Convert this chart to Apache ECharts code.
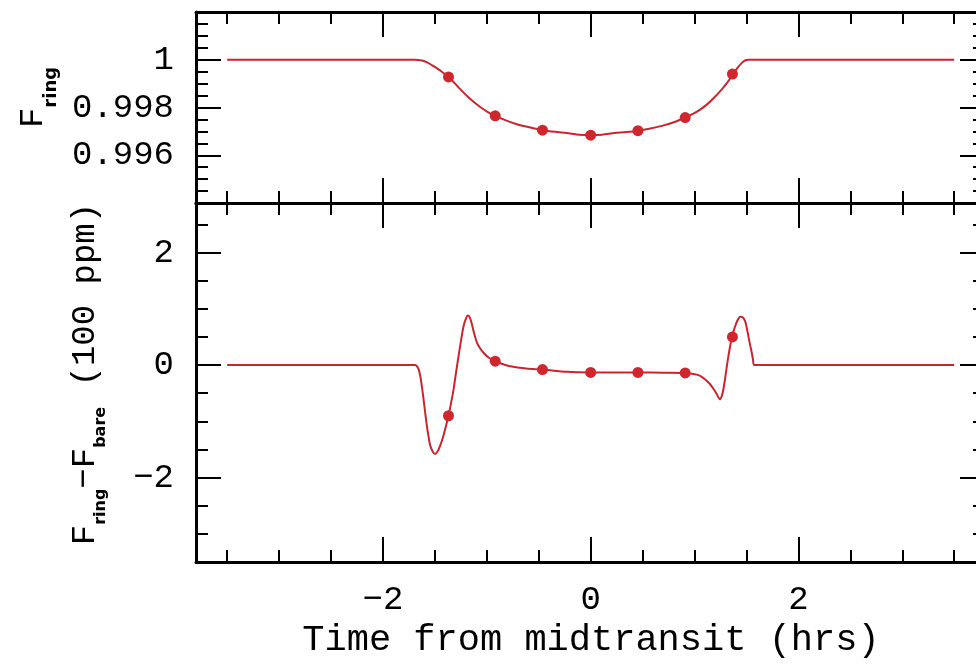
<!DOCTYPE html>
<html>
<head>
<meta charset="utf-8">
<script src="https://cdn.jsdelivr.net/npm/echarts@6/dist/echarts.min.js"></script>
<style>
  html, body { margin: 0; padding: 0; background: #fff; }
  #chart { width: 976px; height: 664px; }
</style>
</head>
<body>
<div id="chart"></div>
<script>
// ---- data ----
const fluxTime = [-3.5, -1.70, -1.625, -1.57, -1.513, -1.44, -1.369, -1.31, -1.256, -1.19, -1.128, -1.06, -0.99, -0.919, -0.81, -0.71, -0.58, -0.46, -0.34, -0.229, -0.11, 0, 0.11, 0.229, 0.34, 0.46, 0.575, 0.685, 0.80, 0.91, 0.98, 1.05, 1.118, 1.19, 1.263, 1.32, 1.368, 1.41, 1.455, 1.49, 1.519, 3.5];
const fluxRing = [1, 1, 0.99997, 0.99988, 0.99973, 0.99952, 0.99928, 0.99902, 0.99877, 0.99848, 0.99824, 0.99801, 0.99781, 0.99765, 0.99745, 0.99730, 0.99716, 0.99705, 0.99698, 0.99693, 0.99686, 0.99684, 0.99686, 0.99693, 0.99697, 0.99703, 0.99712, 0.99723, 0.99738, 0.99758, 0.99772, 0.99790, 0.99812, 0.99842, 0.99876, 0.99907, 0.99938, 0.99964, 0.99987, 0.99998, 1, 1];

const diffTime = [-3.5, -1.69, -1.66, -1.641, -1.625, -1.609, -1.593, -1.577, -1.56, -1.545, -1.52, -1.497, -1.473, -1.449, -1.425, -1.40, -1.369, -1.345, -1.32, -1.296, -1.272, -1.248, -1.224, -1.20, -1.182, -1.162, -1.143, -1.12, -1.095, -1.065, -1.032, -0.98, -0.919, -0.85, -0.775, -0.62, -0.464, -0.229, 0, 0.23, 0.455, 0.70, 0.91, 0.99, 1.054, 1.10, 1.15, 1.185, 1.215, 1.232, 1.246, 1.262, 1.278, 1.295, 1.311, 1.327, 1.343, 1.359, 1.375, 1.391, 1.415, 1.439, 1.463, 1.487, 1.503, 1.519, 1.535, 1.551, 1.563, 1.574, 3.5];
const diffRing = [0, 0, -0.06, -0.19, -0.38, -0.61, -0.85, -1.08, -1.28, -1.43, -1.54, -1.58, -1.53, -1.43, -1.30, -1.13, -0.90, -0.68, -0.43, -0.13, 0.16, 0.44, 0.69, 0.83, 0.88, 0.84, 0.72, 0.55, 0.40, 0.30, 0.22, 0.13, 0.07, 0.02, -0.02, -0.06, -0.08, -0.12, -0.13, -0.13, -0.13, -0.135, -0.14, -0.16, -0.19, -0.25, -0.34, -0.43, -0.52, -0.58, -0.61, -0.55, -0.43, -0.23, -0.02, 0.17, 0.34, 0.50, 0.60, 0.69, 0.80, 0.86, 0.85, 0.78, 0.66, 0.51, 0.36, 0.22, 0.10, 0, 0];

const dotTime = [-1.369, -0.919, -0.464, 0, 0.455, 0.91, 1.365];
const dotFlux = [0.99928, 0.99765, 0.99705, 0.99684, 0.99703, 0.99758, 0.99940];
const dotDiff = [-0.90, 0.07, -0.08, -0.13, -0.13, -0.14, 0.50];

// tick labels
const xTickLabels = [-2, 0, 2];
const fluxTickLabels = [0.996, 0.998, 1];
const diffTickLabels = [-2, 0, 2];

// ---- styling / layout ----
const FONT = 'Liberation Mono';
const RED = '#c8262f';
const DOT = '#d0262e';
const X_MIN = -3.8, X_MAX = 3.71;
const F_MIN = 0.994, F_MAX = 1.002;
const D_MIN = -3.5, D_MAX = 2.88;

function steps(a, b, s) {
  const out = [];
  const n = Math.round((b - a) / s);
  for (let i = 0; i <= n; i++) out.push(+(a + i * s).toFixed(6));
  return out;
}
const xMinor = steps(-3.5, 3.5, 0.5);
const xMajor = xTickLabels;
const fMinor = steps(0.994, 1.002, 0.0005);
const fMajor = steps(0.994, 1.002, 0.002);
const dMinor = steps(-3.5, 2.5, 0.5);
const dMajor = [-2, 0, 2];

const minus = v => (v < 0 ? '\u2212' + Math.abs(v) : String(v));

function axisBase(gridIndex, position, min, max, ticks, len, showLine) {
  return {
    type: 'value', gridIndex, position, min, max,
    axisLine: { show: showLine, onZero: false, lineStyle: { color: '#000', width: 3 } },
    axisTick: { show: true, inside: true, length: len, customValues: ticks, lineStyle: { color: '#000', width: 2 } },
    axisLabel: { show: false },
    splitLine: { show: false }
  };
}
function rightAxis(gridIndex, min, max, ticks, len, showLine) {
  const a = axisBase(gridIndex, 'right', min, max, ticks, len, showLine);
  a.offset = 9;
  return a;
}

const xAxes = [];
const yAxes = [];
// grid 0 (top)
xAxes.push(axisBase(0, 'bottom', X_MIN, X_MAX, xMinor, 12, true));   // 0
xAxes.push(axisBase(0, 'bottom', X_MIN, X_MAX, xMajor, 25, false));  // 1
xAxes.push(axisBase(0, 'top', X_MIN, X_MAX, xMinor, 12, true));      // 2
xAxes.push(axisBase(0, 'top', X_MIN, X_MAX, xMajor, 25, false));     // 3
// grid 1 (bottom)
xAxes.push(axisBase(1, 'bottom', X_MIN, X_MAX, xMinor, 12, true));   // 4
const xLab = axisBase(1, 'bottom', X_MIN, X_MAX, xMajor, 25, false);  // 5
xLab.axisLabel = {
  show: true, customValues: xTickLabels, margin: 21,
  fontFamily: FONT, fontSize: 34, color: '#000',
  formatter: minus
};
xLab.name = 'Time from midtransit (hrs)';
xLab.nameLocation = 'middle';
xLab.nameGap = 49;
xLab.nameTextStyle = { fontFamily: FONT, fontSize: 37, color: '#000', padding: [0, 0, 0, 10] };
xAxes.push(xLab);
xAxes.push(axisBase(1, 'top', X_MIN, X_MAX, xMinor, 12, true));      // 6
xAxes.push(axisBase(1, 'top', X_MIN, X_MAX, xMajor, 25, false));     // 7

// y axes grid 0
yAxes.push(axisBase(0, 'left', F_MIN, F_MAX, fMinor, 12, true));     // 0
const fLab = axisBase(0, 'left', F_MIN, F_MAX, fMajor, 25, false);   // 1
fLab.axisLabel = {
  show: true, customValues: fluxTickLabels, margin: 22,
  fontFamily: FONT, fontSize: 34, color: '#000',
  formatter: v => (Math.abs(v - 1) < 1e-9 ? '1' : v.toFixed(3))
};
fLab.name = '{f|F}{s|ring}';
fLab.nameLocation = 'middle';
fLab.nameRotate = 90;
fLab.nameGap = 140;
fLab.nameTextStyle = {
  padding: [0, 0, 0, 20],
  rich: {
    f: { fontFamily: FONT, fontSize: 34, color: '#000', verticalAlign: 'top', lineHeight: 40 },
    s: { fontFamily: 'DejaVu Sans', fontWeight: 'bold', fontSize: 18, color: '#000', verticalAlign: 'top', lineHeight: 20, padding: [26, 0, 0, 0] }
  }
};
yAxes.push(fLab);
yAxes.push(rightAxis(0, F_MIN, F_MAX, fMinor, 12, true));    // 2
yAxes.push(rightAxis(0, F_MIN, F_MAX, fMajor, 25, false));   // 3
// y axes grid 1
yAxes.push(axisBase(1, 'left', D_MIN, D_MAX, dMinor, 12, true));     // 4
const dLab = axisBase(1, 'left', D_MIN, D_MAX, dMajor, 25, false);   // 5
dLab.axisLabel = {
  show: true, customValues: diffTickLabels, margin: 22,
  fontFamily: FONT, fontSize: 34, color: '#000',
  formatter: minus
};
dLab.name = '{f|F}{s|ring}{f|\u2212F}{s|bare}{f| (100 ppm)}';
dLab.nameLocation = 'middle';
dLab.nameRotate = 90;
dLab.nameGap = 88;
dLab.nameTextStyle = {
  padding: [0, 0, 0, 17],
  rich: {
    f: { fontFamily: FONT, fontSize: 34, color: '#000', verticalAlign: 'top', lineHeight: 40 },
    s: { fontFamily: 'DejaVu Sans', fontWeight: 'bold', fontSize: 16, color: '#000', verticalAlign: 'top', lineHeight: 18, padding: [25, 0, 0, 0] }
  }
};
yAxes.push(dLab);
yAxes.push(rightAxis(1, D_MIN, D_MAX, dMinor, 12, true));    // 6
yAxes.push(rightAxis(1, D_MIN, D_MAX, dMajor, 25, false));   // 7

const zip = (a, b) => a.map((v, i) => [v, b[i]]);

const option = {
  animation: false,
  backgroundColor: '#fff',
  grid: [
    { left: 196, top: 12, right: 0, height: 191, containLabel: false },
    { left: 196, top: 203, right: 0, height: 362, containLabel: false }
  ],
  xAxis: xAxes,
  yAxis: yAxes,
  series: [
    {
      type: 'line', xAxisIndex: 0, yAxisIndex: 0,
      data: zip(fluxTime, fluxRing), showSymbol: false, smooth: 0.25,
      lineStyle: { color: RED, width: 2 }, z: 3
    },
    {
      type: 'scatter', xAxisIndex: 0, yAxisIndex: 0,
      data: zip(dotTime, dotFlux), symbol: 'circle', symbolSize: 11,
      itemStyle: { color: DOT, opacity: 1 }, z: 4
    },
    {
      type: 'line', xAxisIndex: 4, yAxisIndex: 4,
      data: zip(diffTime, diffRing), showSymbol: false, smooth: 0.25,
      lineStyle: { color: RED, width: 2 }, z: 3
    },
    {
      type: 'scatter', xAxisIndex: 4, yAxisIndex: 4,
      data: zip(dotTime, dotDiff), symbol: 'circle', symbolSize: 11,
      itemStyle: { color: DOT, opacity: 1 }, z: 4
    }
  ]
};

const chart = echarts.init(document.getElementById('chart'), null, { renderer: 'canvas' });
chart.setOption(option);
</script>
</body>
</html>
